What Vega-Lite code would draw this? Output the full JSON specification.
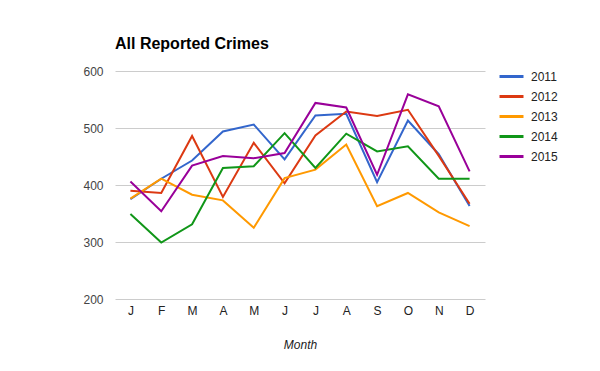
{
  "$schema": "https://vega.github.io/schema/vega-lite/v6.json",
  "width": 370,
  "height": 228,
  "autosize": {"type": "none"},
  "padding": {"left": 115, "top": 71, "right": 115, "bottom": 72},
  "background": "white",
  "title": {
    "text": "All Reported Crimes",
    "anchor": "start",
    "frame": "group",
    "font": "Liberation Sans",
    "fontSize": 16,
    "fontWeight": "bold",
    "color": "#000000",
    "offset": 11
  },
  "config": {
    "view": {"stroke": null},
    "font": "Liberation Sans"
  },
  "data": {
    "values": [
      {"month": "Jan", "year": "2011", "crimes": 375},
      {"month": "Feb", "year": "2011", "crimes": 411},
      {"month": "Mar", "year": "2011", "crimes": 443},
      {"month": "Apr", "year": "2011", "crimes": 494},
      {"month": "May", "year": "2011", "crimes": 506},
      {"month": "Jun", "year": "2011", "crimes": 445},
      {"month": "Jul", "year": "2011", "crimes": 522},
      {"month": "Aug", "year": "2011", "crimes": 525},
      {"month": "Sep", "year": "2011", "crimes": 405},
      {"month": "Oct", "year": "2011", "crimes": 513},
      {"month": "Nov", "year": "2011", "crimes": 454},
      {"month": "Dec", "year": "2011", "crimes": 363},
      {"month": "Jan", "year": "2012", "crimes": 390},
      {"month": "Feb", "year": "2012", "crimes": 386},
      {"month": "Mar", "year": "2012", "crimes": 486},
      {"month": "Apr", "year": "2012", "crimes": 379},
      {"month": "May", "year": "2012", "crimes": 474},
      {"month": "Jun", "year": "2012", "crimes": 403},
      {"month": "Jul", "year": "2012", "crimes": 487},
      {"month": "Aug", "year": "2012", "crimes": 529},
      {"month": "Sep", "year": "2012", "crimes": 521},
      {"month": "Oct", "year": "2012", "crimes": 532},
      {"month": "Nov", "year": "2012", "crimes": 451},
      {"month": "Dec", "year": "2012", "crimes": 367},
      {"month": "Jan", "year": "2013", "crimes": 376},
      {"month": "Feb", "year": "2013", "crimes": 411},
      {"month": "Mar", "year": "2013", "crimes": 383},
      {"month": "Apr", "year": "2013", "crimes": 373},
      {"month": "May", "year": "2013", "crimes": 325},
      {"month": "Jun", "year": "2013", "crimes": 412},
      {"month": "Jul", "year": "2013", "crimes": 427},
      {"month": "Aug", "year": "2013", "crimes": 471},
      {"month": "Sep", "year": "2013", "crimes": 363},
      {"month": "Oct", "year": "2013", "crimes": 386},
      {"month": "Nov", "year": "2013", "crimes": 352},
      {"month": "Dec", "year": "2013", "crimes": 328},
      {"month": "Jan", "year": "2014", "crimes": 349},
      {"month": "Feb", "year": "2014", "crimes": 299},
      {"month": "Mar", "year": "2014", "crimes": 331},
      {"month": "Apr", "year": "2014", "crimes": 430},
      {"month": "May", "year": "2014", "crimes": 433},
      {"month": "Jun", "year": "2014", "crimes": 491},
      {"month": "Jul", "year": "2014", "crimes": 430},
      {"month": "Aug", "year": "2014", "crimes": 490},
      {"month": "Sep", "year": "2014", "crimes": 459},
      {"month": "Oct", "year": "2014", "crimes": 468},
      {"month": "Nov", "year": "2014", "crimes": 411},
      {"month": "Dec", "year": "2014", "crimes": 411},
      {"month": "Jan", "year": "2015", "crimes": 406},
      {"month": "Feb", "year": "2015", "crimes": 354},
      {"month": "Mar", "year": "2015", "crimes": 434},
      {"month": "Apr", "year": "2015", "crimes": 451},
      {"month": "May", "year": "2015", "crimes": 447},
      {"month": "Jun", "year": "2015", "crimes": 456},
      {"month": "Jul", "year": "2015", "crimes": 544},
      {"month": "Aug", "year": "2015", "crimes": 536},
      {"month": "Sep", "year": "2015", "crimes": 418},
      {"month": "Oct", "year": "2015", "crimes": 559},
      {"month": "Nov", "year": "2015", "crimes": 538},
      {"month": "Dec", "year": "2015", "crimes": 424}
    ]
  },
  "mark": {"type": "line", "strokeWidth": 2},
  "encoding": {
    "x": {
      "field": "month",
      "type": "ordinal",
      "sort": ["Jan","Feb","Mar","Apr","May","Jun","Jul","Aug","Sep","Oct","Nov","Dec"],
      "scale": {"type": "point", "padding": 0.5},
      "axis": {
        "title": "Month",
        "titleFont": "Liberation Sans",
        "titleFontSize": 12,
        "titleFontStyle": "italic",
        "titleFontWeight": "normal",
        "titleColor": "#222222",
        "titlePadding": 23,
        "labelExpr": "slice(datum.label, 0, 1)",
        "labelFont": "Liberation Sans",
        "labelFontSize": 12,
        "labelColor": "#222222",
        "labelPadding": 6,
        "labelAngle": 0,
        "domain": false,
        "ticks": false,
        "grid": false
      }
    },
    "y": {
      "field": "crimes",
      "type": "quantitative",
      "scale": {"domain": [200, 600], "nice": false, "zero": false},
      "axis": {
        "title": null,
        "values": [200, 300, 400, 500, 600],
        "labelFont": "Liberation Sans",
        "labelFontSize": 12,
        "labelColor": "#444444",
        "labelPadding": 12,
        "domain": false,
        "ticks": false,
        "grid": true,
        "gridColor": "#cccccc",
        "gridWidth": 1
      }
    },
    "color": {
      "field": "year",
      "type": "nominal",
      "scale": {
        "domain": ["2011", "2012", "2013", "2014", "2015"],
        "range": ["#3366cc", "#dc3912", "#ff9900", "#109618", "#990099"]
      },
      "legend": {
        "title": null,
        "orient": "none",
        "legendX": 383,
        "legendY": -8,
        "symbolType": "stroke",
        "symbolSize": 576,
        "symbolStrokeWidth": 3,
        "labelFont": "Liberation Sans",
        "labelFontSize": 12,
        "labelColor": "#222222",
        "labelOffset": 6,
        "rowPadding": 0
      }
    }
  }
}
